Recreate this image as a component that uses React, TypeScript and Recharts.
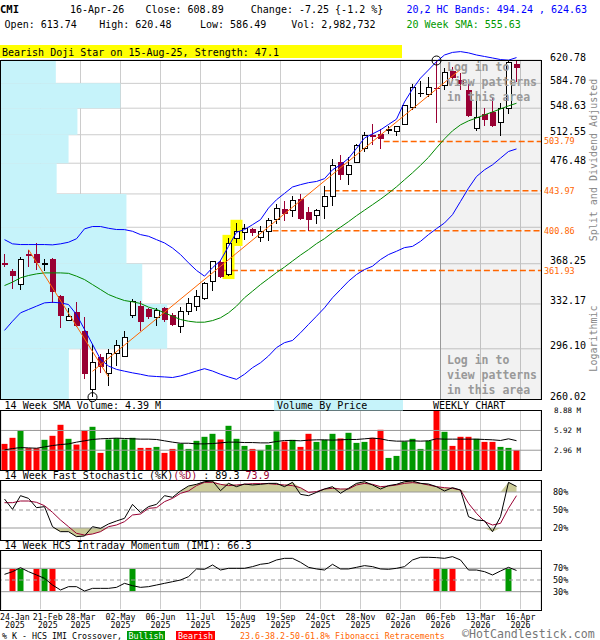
import React from 'react';
import {
  ComposedChart, Bar, Line, Area, XAxis, YAxis, CartesianGrid,
  ReferenceLine, ReferenceArea, ReferenceDot, Cell,
} from 'recharts';

// ---------------- DATA ----------------
const opens = [368.8, 361.4, 349.1, 377.5, 377.4, 367.6, 373.2, 338.6, 318.6, 325.5, 309.7, 266.9, 289.9, 277.9, 292.3, 290.4, 322.7, 330.1, 328.3, 320.9, 328.9, 323.2, 313.9, 325.5, 330.1, 336.9, 352.1, 370.2, 357.9, 392.4, 398.5, 402.3, 393.4, 400.2, 412.3, 423.9, 421.6, 435.1, 420.9, 416.2, 426.3, 437.7, 477.7, 463.3, 477.7, 495.4, 511.5, 513.6, 518.5, 517.1, 526.8, 549.5, 569.5, 568.4, 577.5, 581.5, 603.8, 590.0, 574.9, 521.3, 540.9, 543.9, 529.4, 547.6, 613.74];
const highs = [377.4, 363.5, 374.8, 381.8, 388.3, 373.0, 374.0, 340.0, 328.9, 334.2, 321.0, 299.4, 292.0, 296.2, 303.1, 310.1, 336.6, 334.6, 329.0, 328.9, 329.3, 324.6, 329.5, 336.9, 344.7, 351.0, 370.8, 371.4, 393.4, 408.9, 407.9, 403.7, 405.4, 414.1, 429.1, 432.8, 437.7, 440.2, 425.5, 424.0, 448.9, 481.9, 486.1, 483.6, 500.5, 516.1, 526.8, 520.6, 523.7, 524.0, 552.0, 583.8, 589.0, 594.5, 620.0, 608.9, 610.5, 601.2, 583.8, 570.0, 549.5, 562.5, 555.7, 620.3, 620.48];
const lows = [364.9, 345.3, 344.7, 364.9, 362.8, 361.4, 333.3, 312.5, 317.9, 313.0, 273.8, 261.6, 278.6, 269.1, 283.3, 290.0, 320.5, 310.2, 320.0, 313.9, 317.2, 313.9, 308.4, 322.6, 326.0, 335.2, 343.8, 355.4, 356.9, 388.5, 391.7, 395.0, 389.5, 390.1, 408.1, 410.6, 414.7, 412.0, 400.2, 407.4, 413.4, 427.3, 456.7, 450.3, 477.0, 490.4, 498.7, 494.4, 513.6, 510.6, 525.0, 546.4, 564.5, 564.5, 528.1, 574.9, 587.7, 574.9, 536.3, 517.1, 523.7, 522.5, 511.5, 541.0, 586.49];
const closes = [367.6, 356.9, 372.2, 375.9, 368.6, 368.6, 342.5, 321.9, 321.9, 313.7, 277.9, 286.1, 282.4, 292.6, 298.6, 304.7, 334.6, 317.3, 320.9, 326.6, 318.6, 314.7, 326.0, 332.2, 338.6, 350.3, 370.2, 356.0, 387.5, 399.6, 403.0, 398.5, 400.2, 411.3, 423.9, 418.2, 433.6, 412.6, 411.5, 422.3, 437.7, 473.6, 462.5, 473.2, 498.7, 511.2, 510.3, 507.1, 519.5, 523.7, 551.9, 578.9, 570.3, 578.9, 576.4, 601.8, 593.5, 583.8, 537.1, 535.4, 532.4, 523.7, 548.6, 616.14, 608.89];
const volumesM = [3.91, 4.82, 5.92, 3.26, 3.26, 4.52, 5.12, 6.77, 4.67, 3.81, 5.92, 6.47, 2.56, 4.57, 4.77, 4.57, 4.82, 3.31, 3.31, 3.46, 2.56, 3.16, 3.96, 3.16, 4.37, 4.97, 5.42, 4.57, 6.62, 4.67, 3.61, 3.16, 3.01, 3.76, 5.77, 4.27, 4.52, 3.46, 5.42, 4.21, 4.52, 5.42, 4.72, 5.57, 4.06, 4.21, 4.82, 6.02, 1.81, 2.11, 4.27, 4.67, 3.16, 4.37, 8.85, 5.72, 3.61, 4.97, 4.97, 4.67, 4.21, 4.21, 3.46, 3.31, 2.98];
const volumeSma14 = [3.01, 3.21, 3.36, 3.31, 3.26, 3.46, 3.66, 3.81, 3.91, 4.17, 4.37, 4.57, 4.67, 4.72, 4.77, 4.72, 4.67, 4.62, 4.62, 4.57, 4.37, 4.17, 4.01, 4.01, 3.91, 3.91, 3.96, 4.06, 4.17, 4.17, 4.11, 4.11, 4.06, 4.06, 4.27, 4.42, 4.42, 4.37, 4.47, 4.52, 4.52, 4.47, 4.52, 4.57, 4.57, 4.67, 4.77, 4.67, 4.42, 4.32, 4.32, 4.37, 4.32, 4.37, 4.67, 4.62, 4.62, 4.62, 4.62, 4.62, 4.57, 4.52, 4.42, 4.67, 4.39];
const hcUpper = [391.7, 387.5, 386.8, 386.8, 386.8, 386.8, 386.5, 387.5, 389.1, 392.6, 402.7, 405.1, 405.1, 403.3, 402.0, 401.9, 400.2, 396.8, 395.1, 391.7, 388.4, 383.4, 377.0, 369.1, 362.0, 356.7, 364.5, 371.3, 385.0, 399.2, 401.9, 407.0, 412.3, 424.7, 433.9, 441.0, 448.3, 451.0, 453.3, 454.7, 458.0, 468.5, 474.5, 482.4, 494.9, 508.3, 513.7, 519.0, 526.2, 533.4, 557.5, 576.2, 592.6, 605.1, 618.1, 628.8, 633.0, 634.3, 632.2, 628.8, 626.4, 624.0, 621.5, 620.5, 624.63];
const hcLower = [310.4, 317.8, 324.7, 327.5, 330.3, 333.1, 333.6, 333.1, 331.7, 323.3, 311.2, 299.5, 288.2, 283.3, 280.9, 279.6, 278.4, 277.4, 276.2, 275.8, 275.5, 275.1, 276.2, 277.9, 279.7, 281.4, 279.7, 277.4, 275.5, 273.8, 277.4, 282.1, 285.7, 290.7, 297.0, 300.8, 302.5, 308.5, 315.2, 321.9, 328.9, 337.5, 344.7, 352.1, 358.2, 362.8, 365.9, 372.2, 377.0, 380.2, 383.8, 385.0, 390.0, 396.8, 402.9, 408.8, 417.6, 432.0, 447.0, 460.5, 468.5, 474.5, 482.7, 491.0, 494.24];
const sma20 = [348.2, 351.3, 355.2, 357.3, 358.8, 359.7, 359.7, 359.7, 359.3, 356.7, 353.6, 349.1, 344.7, 340.3, 337.5, 335.1, 334.0, 332.6, 329.5, 327.5, 324.7, 321.9, 319.2, 317.8, 317.0, 317.0, 318.3, 320.6, 324.7, 330.3, 337.5, 343.2, 349.1, 354.5, 360.0, 365.1, 370.8, 376.5, 381.8, 387.7, 392.7, 398.9, 404.4, 410.2, 416.5, 422.4, 428.4, 434.5, 441.2, 448.5, 456.7, 464.9, 473.9, 483.7, 495.6, 507.2, 517.7, 525.7, 531.1, 535.1, 539.3, 543.4, 547.6, 551.9, 555.63];
const fastK = [68.3, 51.1, 73.9, 69.4, 53.9, 55.6, 22.2, 13.9, 13.9, 5.6, 6.7, 22.2, 19.4, 26.7, 31.7, 36.1, 59.4, 45.6, 55.6, 59.4, 73.9, 71.1, 81.7, 90.0, 92.8, 97.2, 98.3, 82.2, 94.4, 88.9, 93.3, 91.7, 92.8, 94.4, 94.4, 88.9, 96.1, 76.1, 73.9, 79.4, 85.0, 88.9, 77.8, 86.1, 94.4, 97.2, 91.7, 85.0, 90.6, 92.8, 97.2, 98.3, 94.4, 93.3, 88.9, 81.7, 87.2, 83.3, 38.9, 33.3, 32.2, 13.9, 38.9, 96.1, 89.3];
const fastD = [62.2, 62.2, 65.0, 65.0, 62.8, 57.2, 46.1, 33.3, 22.2, 11.1, 8.3, 10.0, 13.9, 22.2, 25.0, 30.6, 41.7, 43.3, 52.8, 53.9, 63.9, 69.4, 77.8, 81.7, 90.6, 96.1, 96.1, 92.8, 90.6, 91.7, 92.8, 93.9, 93.9, 93.9, 92.8, 91.7, 90.6, 87.2, 79.4, 80.6, 85.0, 86.1, 85.0, 85.0, 91.7, 94.4, 92.8, 88.9, 90.0, 91.7, 94.4, 95.6, 94.4, 91.7, 88.9, 87.2, 86.1, 83.3, 61.1, 44.4, 30.6, 25.0, 27.8, 52.8, 73.9];
const imi14 = [59.7, 64.3, 71.1, 64.3, 58.6, 52.9, 41.4, 32.9, 38.6, 38.6, 31.1, 35.7, 35.7, 35.7, 37.4, 44.3, 40.3, 37.4, 38.6, 41.4, 44.3, 47.1, 50.0, 55.7, 68.9, 68.3, 75.7, 67.1, 70.0, 70.0, 70.0, 72.9, 76.9, 78.6, 84.3, 87.1, 87.1, 80.3, 71.7, 68.9, 67.1, 76.9, 68.9, 68.9, 71.7, 74.6, 72.9, 68.9, 68.3, 70.0, 72.9, 84.3, 88.9, 88.9, 88.3, 87.1, 90.0, 84.3, 67.1, 67.1, 64.3, 58.6, 65.4, 71.7, 66.3];
const crossovers = [
  { week: 1, kind: 'bear' }, { week: 2, kind: 'bull' }, { week: 4, kind: 'bear' },
  { week: 5, kind: 'bull' }, { week: 6, kind: 'bear' }, { week: 16, kind: 'bull' },
  { week: 54, kind: 'bear' }, { week: 55, kind: 'bull' }, { week: 56, kind: 'bear' },
  { week: 63, kind: 'bull' },
];
const tickWeeks = [0, 4, 9, 14, 19, 24, 29, 34, 39, 44, 49, 54, 59, 64];
const tickLabels = ['24-Jan', '21-Feb', '28-Mar', '02-May', '06-Jun', '11-Jul', '15-Aug', '19-Sep', '24-Oct', '28-Nov', '02-Jan', '06-Feb', '13-Mar', '16-Apr'];
const tickYears = ['2025', '2025', '2025', '2025', '2025', '2025', '2025', '2025', '2025', '2025', '2026', '2026', '2026', '2026'];
const priceTicks = [260.02, 296.10, 332.17, 368.25, 404.33, 440.40, 476.48, 512.55, 548.63, 584.70, 620.78];
const unlabeledPriceTicks = [404.33, 440.40];
const vbpVolumeM = [24.5, 60.0, 51.0, 45.3, 45.3, 20.1, 24.4, 27.6, 43.1, 19.8];
const fibLevels = [
  { value: 503.79, fromWeek: 47.4 },
  { value: 443.97, fromWeek: 40 },
  { value: 400.86, fromWeek: 33.5 },
  { value: 361.93, fromWeek: 27.3 },
];
const trendDown = [{ i: 3, t: 381.8 }, { i: 13, t: 275.5 }];
const trendUp = [{ i: 11, t: 279.5 }, { i: 57, t: 606 }];
const highlightWeeks = [28, 29];
const pivotLowWeek = 11;
const pivotHighWeek = 54;
const patternsFromWeek = 54.5;
const volTicks = [2.96, 5.92, 8.88];

// ---------------- STYLE / LAYOUT ----------------
const MONO = '"DejaVu Sans Mono", "Liberation Mono", monospace';
const RED_CANDLE = '#990033';
const VOL_RED = '#ff0000';
const VOL_GREEN = '#009900';
const ORANGE = '#ff6600';
const BLUE = '#0000ff';
const SMA_GREEN = '#008800';
const CYAN = '#c6f3fa';
const GRID = '#cccccc';
const W = 600;
const H = 640;
const X_DOMAIN: [number, number] = [-0.4375, 67.0625];
const AXIS_W = 59;
const MAIN_TOP = 60;
const MAIN_BOTTOM = 399.5;
const P_MIN = 260.02;
const P_MAX = 620.78;
const P_EXT = 660;
const PX_PER_LN = (MAIN_BOTTOM - MAIN_TOP) / Math.log(P_MAX / P_MIN);
const EXT_TOP = MAIN_TOP - PX_PER_LN * Math.log(P_EXT / P_MAX);
const VOL_TOP = 410.7, VOL_BOTTOM = 470;
const ST_TOP = 480, ST_BOTTOM = 540;
const IMI_TOP = 550.8, IMI_BOTTOM = 609.2;
const LAB_H = 20;
// volume-by-price scale: full plot width corresponds to this many million shares
const VBP_FULL_WIDTH_M = 195;
const vbpToWeekAxis = (v: number) => X_DOMAIN[0] + (v / VBP_FULL_WIDTH_M) * (X_DOMAIN[1] - X_DOMAIN[0]);

const gridX = tickWeeks.slice(1).map((w) => w + 0.5);
const tickPos = tickWeeks.map((w) => w + 0.5);
const abs: React.CSSProperties = { position: 'absolute', left: 0, top: 0 };

const Candle = (props: any) => {
  const { x, y, width, height, payload } = props;
  if (payload == null || x == null || y == null || !isFinite(height)) return null;
  const top = Math.min(y, y + height);
  const bottom = Math.max(y, y + height);
  const cx = x + width / 2;
  const lh = Math.log(payload.h);
  const ll = Math.log(payload.l);
  const toY = (v: number) => (lh === ll ? top : top + ((bottom - top) * (lh - Math.log(v))) / (lh - ll));
  const up = payload.c >= payload.o;
  const yA = toY(Math.max(payload.o, payload.c));
  const yB = toY(Math.min(payload.o, payload.c));
  const color = up ? '#000000' : RED_CANDLE;
  const bodyH = yB - yA;
  return (
    <g shapeRendering="crispEdges">
      <line x1={cx} x2={cx} y1={top} y2={bottom} stroke={color} strokeWidth={1} />
      {bodyH < 1.5 ? (
        <line x1={cx - 2.5} x2={cx + 3.5} y1={(yA + yB) / 2} y2={(yA + yB) / 2} stroke={color} strokeWidth={1.5} />
      ) : up ? (
        <rect x={cx - 2} y={yA} width={5} height={bodyH} fill="#ffffff" stroke="#000000" strokeWidth={1} />
      ) : (
        <rect x={cx - 2.5} y={yA} width={6} height={bodyH} fill={RED_CANDLE} />
      )}
    </g>
  );
};

const PriceTick = (props: any) => {
  const { x, y, payload } = props;
  if (unlabeledPriceTicks.includes(payload.value)) return <g />;
  return (
    <text x={x} y={y + 0.5} fontSize={10} fontFamily={MONO} fill="#000" textAnchor="start">
      {payload.value.toFixed(2)}
    </text>
  );
};

const VolTick = (props: any) => {
  const { x, y, payload } = props;
  return (
    <text x={x} y={y + 2.7} fontSize={7.5} fontFamily={MONO} fill="#000" textAnchor="start">
      {`${payload.value.toFixed(2)} M`}
    </text>
  );
};

const PctTick = (props: any) => {
  const { x, y, payload } = props;
  return (
    <text x={x} y={y + 3} fontSize={8.5} fontFamily={MONO} fill="#000" textAnchor="start">
      {`${payload.value}%`}
    </text>
  );
};

const DateTick = (props: any) => {
  const { x, payload } = props;
  const k = tickPos.indexOf(payload.value);
  if (k < 0) return <g />;
  const w = tickLabels[k].length * 4.97;
  let left = Math.max(x - w / 2, 0);
  if (k === 1) left = Math.max(left, w + 3);
  const c = left + w / 2;
  return (
    <g>
      <text x={c} y={IMI_BOTTOM + 10.3} fontSize={8.25} fontFamily={MONO} fill="#000" textAnchor="middle">{tickLabels[k]}</text>
      <text x={c} y={IMI_BOTTOM + 18.5} fontSize={8.25} fontFamily={MONO} fill="#000" textAnchor="middle">{tickYears[k]}</text>
    </g>
  );
};

export default function App() {
  const crossMap = new Map(crossovers.map((c) => [c.week, c.kind]));
  const data = opens.map((o, i) => ({
    i, o, h: highs[i], l: lows[i], c: closes[i],
    vol: volumesM[i], volSma: volumeSma14[i],
    upper: hcUpper[i], lower: hcLower[i], sma: sma20[i],
    k: fastK[i], d: fastD[i], imi: imi14[i],
    xo: crossMap.get(i) ?? null,
  }));

  const T = (p: any) => <text fontFamily={MONO} fontSize={10} fill="#000" {...p} />;

  return (
    <div style={{ position: 'absolute', left: 0, top: 0, width: W, height: H, background: '#fff', overflow: 'hidden' }}>
      {/* Main price panel: background layer */}
      <div style={abs}>
        <ComposedChart width={W} height={H} data={data}
          margin={{ top: MAIN_TOP, right: 0, bottom: H - MAIN_BOTTOM, left: 1 }}>
          <XAxis dataKey="i" type="number" domain={X_DOMAIN} ticks={gridX} hide allowDataOverflow />
          <YAxis orientation="right" width={AXIS_W} type="number" scale="log" domain={[P_MIN, P_MAX]}
            ticks={priceTicks} interval={0} allowDataOverflow tickLine={false} axisLine={false}
            tickSize={0} tickMargin={9} tick={<PriceTick />} />
          <CartesianGrid stroke={GRID} />
          <ReferenceArea x1={patternsFromWeek} x2={X_DOMAIN[1]} y1={P_MIN} y2={P_MAX}
            fill="#000000" fillOpacity={0.05} stroke="none" ifOverflow="visible" />
          {vbpVolumeM.map((v, b) => (
            <ReferenceArea key={`vbp${b}`} x1={X_DOMAIN[0]} x2={vbpToWeekAxis(v)} y1={priceTicks[b]} y2={priceTicks[b + 1]}
              fill={CYAN} fillOpacity={1} stroke="none" ifOverflow="visible" />
          ))}
          <ReferenceLine x={patternsFromWeek} stroke="#999999" ifOverflow="visible" />
          {highlightWeeks.map((w) => (
            <ReferenceArea key={`hl${w}`} x1={w - 0.75} x2={w + 0.75} y1={lows[w] / 1.008} y2={highs[w] * 1.008}
              fill="#ffff00" fillOpacity={1} stroke="none" ifOverflow="visible" />
          ))}
          {fibLevels.map((f) => (
            <ReferenceLine key={`fib${f.value}`} ifOverflow="visible"
              segment={[{ x: f.fromWeek, y: f.value }, { x: X_DOMAIN[1], y: f.value }]}
              stroke={ORANGE} strokeWidth={1.5} strokeDasharray="6 3"
              label={{ value: f.value.toFixed(2), position: 'right', offset: 3, fill: ORANGE, fontSize: 8.5, fontFamily: MONO }} />
          ))}
          <Line dataKey="c" stroke="none" dot={false} isAnimationActive={false} />
        </ComposedChart>
      </div>

      {/* Main price panel: foreground layer (extended log domain so bands may pass the top edge) */}
      <div style={abs}>
        <ComposedChart width={W} height={H} data={data}
          margin={{ top: EXT_TOP, right: AXIS_W, bottom: H - MAIN_BOTTOM, left: 1 }}>
          <XAxis dataKey="i" type="number" domain={X_DOMAIN} hide />
          <YAxis type="number" scale="log" domain={[P_MIN, P_EXT]} hide />
          <Bar dataKey={(d: any) => [d.l, d.h]} barSize={7} isAnimationActive={false}
            shape={(p: any) => <Candle {...p} />} />
          <Line dataKey="upper" stroke={BLUE} strokeWidth={1} dot={false} isAnimationActive={false} />
          <Line dataKey="lower" stroke={BLUE} strokeWidth={1} dot={false} isAnimationActive={false} />
          <Line dataKey="sma" stroke={SMA_GREEN} strokeWidth={1} dot={false} isAnimationActive={false} />
          <Line data={trendDown} dataKey="t" stroke={ORANGE} strokeWidth={1} dot={false} isAnimationActive={false} />
          <Line data={trendUp} dataKey="t" stroke={ORANGE} strokeWidth={1} dot={false} isAnimationActive={false} />
          <ReferenceDot x={pivotLowWeek} y={lows[pivotLowWeek]} r={4.5} fill="none" stroke="#000" ifOverflow="visible" />
          <ReferenceDot x={pivotHighWeek} y={highs[pivotHighWeek]} r={4.5} fill="none" stroke="#000" ifOverflow="visible" />
        </ComposedChart>
      </div>

      {/* Volume panel */}
      <div style={abs}>
        <ComposedChart width={W} height={H} data={data}
          margin={{ top: VOL_TOP, right: 0, bottom: H - VOL_BOTTOM, left: 1 }}>
          <XAxis dataKey="i" type="number" domain={X_DOMAIN} ticks={gridX} hide />
          <YAxis orientation="right" width={AXIS_W} type="number" domain={[0, 8.88]} ticks={volTicks}
            interval={0} tickLine={false} axisLine={false} tickSize={0} tickMargin={13} tick={<VolTick />} />
          <CartesianGrid stroke={GRID} horizontal={false} />
          <ReferenceLine y={2.96} stroke="#999999" />
          <ReferenceLine y={5.92} stroke="#999999" />
          <Bar dataKey="vol" barSize={6} isAnimationActive={false}>
            {data.map((d) => (
              <Cell key={`v${d.i}`} fill={d.c >= d.o ? VOL_GREEN : VOL_RED} />
            ))}
          </Bar>
          <Line dataKey="volSma" stroke="#000" strokeWidth={1} dot={false} isAnimationActive={false} />
        </ComposedChart>
      </div>

      {/* Stochastic panel */}
      <div style={abs}>
        <ComposedChart width={W} height={H} data={data}
          margin={{ top: ST_TOP, right: 0, bottom: H - ST_BOTTOM, left: 1 }}>
          <XAxis dataKey="i" type="number" domain={X_DOMAIN} ticks={gridX} hide />
          <YAxis orientation="right" width={AXIS_W} type="number" domain={[0, 100]} ticks={[20, 50, 80]}
            interval={0} tickLine={false} axisLine={false} tickSize={0} tickMargin={12} tick={<PctTick />} />
          <CartesianGrid stroke={GRID} horizontal={false} />
          <Area dataKey={(d: any) => [80, Math.max(80, d.k, d.d)]} type="linear" fill="#cccc99" fillOpacity={1}
            stroke="none" isAnimationActive={false} />
          <Area dataKey={(d: any) => [Math.min(20, d.k, d.d), 20]} type="linear" fill="#cccc99" fillOpacity={1}
            stroke="none" isAnimationActive={false} />
          <ReferenceLine y={80} stroke="#999999" />
          <ReferenceLine y={20} stroke="#999999" />
          <ReferenceLine y={50} stroke="#999999" strokeDasharray="4 3" />
          <Line dataKey="d" stroke={RED_CANDLE} strokeWidth={1} dot={false} isAnimationActive={false} />
          <Line dataKey="k" stroke="#000" strokeWidth={1} dot={false} isAnimationActive={false} />
        </ComposedChart>
      </div>

      {/* IMI panel */}
      <div style={abs}>
        <ComposedChart width={W} height={H} data={data}
          margin={{ top: IMI_TOP, right: 0, bottom: H - IMI_BOTTOM - LAB_H, left: 1 }}>
          <XAxis dataKey="i" type="number" domain={X_DOMAIN} ticks={gridX} hide />
          <XAxis xAxisId="lab" dataKey="i" type="number" domain={X_DOMAIN} ticks={tickPos} interval={0}
            height={LAB_H} tickLine={false} axisLine={false} tickSize={0} tickMargin={0} tick={<DateTick />} />
          <YAxis orientation="right" width={AXIS_W} type="number" domain={[0, 100]} ticks={[30, 50, 70]}
            interval={0} tickLine={false} axisLine={false} tickSize={0} tickMargin={12} tick={<PctTick />} />
          <CartesianGrid stroke={GRID} horizontal={false} />
          <ReferenceLine y={70} stroke="#999999" />
          <ReferenceLine y={30} stroke="#999999" />
          <ReferenceLine y={50} stroke="#999999" strokeDasharray="4 3" />
          <Bar dataKey={(d: any) => (d.xo ? [31, 69] : null)} barSize={6} isAnimationActive={false}>
            {data.map((d) => (
              <Cell key={`x${d.i}`} fill={d.xo === 'bull' ? VOL_GREEN : VOL_RED} />
            ))}
          </Bar>
          <Line dataKey="imi" stroke="#000" strokeWidth={1} dot={false} isAnimationActive={false} />
        </ComposedChart>
      </div>

      {/* Text overlay and panel frames */}
      <svg width={W} height={H} style={{ ...abs, pointerEvents: 'none' }}>
        <g fill="none" stroke="#000" strokeWidth={1} shapeRendering="crispEdges">
          <rect x={0.5} y={60.5} width={541} height={339} />
          <rect x={0.5} y={410.5} width={541} height={60} />
          <rect x={0.5} y={480.5} width={541} height={60} />
          <rect x={0.5} y={550.5} width={541} height={60} />
        </g>

        <T x={0} y={13} fontWeight="bold" fontSize={10.5}>CMI</T>
        <T x={70} y={13}>16-Apr-26</T>
        <T x={145.4} y={13}>Close: 608.89</T>
        <T x={250.8} y={13}>{'Change: -7.25 {-1.2 %}'}</T>
        <T x={406.5} y={13} fill={BLUE}>20,2 HC Bands: 494.24 , 624.63</T>
        <T x={4.6} y={28}>Open: 613.74</T>
        <T x={99.2} y={28}>High: 620.48</T>
        <T x={200} y={28}>Low: 586.49</T>
        <T x={291.2} y={28}>Vol: 2,982,732</T>
        <T x={406.5} y={28} fill="#009900">20 Week SMA: 555.63</T>

        <rect x={0} y={45} width={402} height={13} fill="#ffff00" />
        <T x={2} y={55.5}>Bearish Doji Star on 15-Aug-25, Strength: 47.1</T>

        <g>
          <T x={447} y={70.5} fontSize={11.5} fill="#999999" fontWeight="bold">Log in to</T>
          <T x={447} y={86} fontSize={11.5} fill="#999999" fontWeight="bold">view patterns</T>
          <T x={447} y={101} fontSize={11.5} fill="#999999" fontWeight="bold">in this area</T>
          <T x={447} y={364} fontSize={11.5} fill="#999999" fontWeight="bold">Log in to</T>
          <T x={447} y={379} fontSize={11.5} fill="#999999" fontWeight="bold">view patterns</T>
          <T x={447} y={394} fontSize={11.5} fill="#999999" fontWeight="bold">in this area</T>
        </g>

        <T x={597} y={160} fill="#888888" textAnchor="middle" transform="rotate(-90 597 160)">Split and Dividend Adjusted</T>
        <T x={597} y={338.5} fill="#888888" textAnchor="middle" transform="rotate(-90 597 338.5)">Logarithmic</T>

        <T x={4.6} y={409}>14 Week SMA Volume: 4.39 M</T>
        <rect x={274} y={400} width={129} height={10.5} fill={CYAN} />
        <T x={277} y={409}>Volume By Price</T>
        <T x={433} y={409}>WEEKLY CHART</T>

        <T x={4.6} y={479}>
          <tspan>14 Week Fast Stochastic (%K)</tspan>
          <tspan fill={RED_CANDLE}>(%D)</tspan>
          <tspan> : 89.3 </tspan>
          <tspan fill={RED_CANDLE}>73.9</tspan>
        </T>
        <T x={4.6} y={549}>14 Week HCS Intraday Momentum (IMI): 66.3</T>

        <T x={2} y={638.5} fontSize={8.3}>% K - HCS IMI Crossover,</T>
        <rect x={127} y={631} width={38} height={9} fill={VOL_GREEN} />
        <T x={146} y={638.5} fontSize={8.3} fill="#fff" textAnchor="middle">Bullish</T>
        <rect x={176} y={631} width={39} height={9} fill={VOL_RED} />
        <T x={195.5} y={638.5} fontSize={8.3} fill="#fff" textAnchor="middle">Bearish</T>
        <T x={240} y={638.5} fontSize={8.3} fill={ORANGE}>23.6-38.2-50-61.8% Fibonacci Retracements</T>
        <T x={462} y={637.5} fontSize={11.6} fill="#777777">©HotCandlestick.com</T>
      </svg>
    </div>
  );
}
